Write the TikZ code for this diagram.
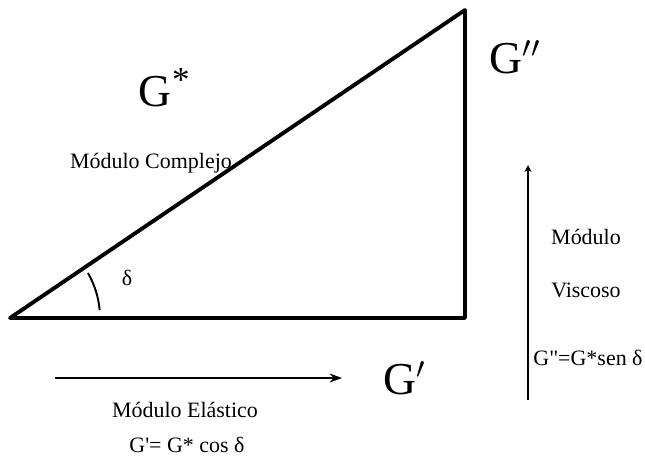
\documentclass[tikz,border=0pt]{standalone}
\usepackage{fontspec}
\setmainfont{Liberation Serif}
\newfontfamily\straightfont{Liberation Serif}
\usetikzlibrary{positioning,arrows.meta}
\tikzset{
  >=Stealth,
  %% lines
  side/.style   = {draw=black, line width=2.2pt, line join=round},
  vec/.style    = {->, draw=black, line width=0.9pt},
  %% labels
  bigsym/.style = {font=\fontsize{26}{28}\selectfont, inner sep=0pt},
  lbl/.style    = {font=\fontsize{12.5}{14}\selectfont, inner sep=1pt},
  eqn/.style    = {font=\straightfont\fontsize{12.5}{14}\selectfont, inner sep=1pt},
}
\begin{document}
\begin{tikzpicture}[x=0.02cm, y=-0.02cm]
\useasboundingbox (0,0) rectangle (645,462);

%% triangle
\coordinate (O) at (10,318);
\coordinate (A) at (465,318);
\coordinate (B) at (465,10);
\draw[side] (O) -- (A) -- (B) -- cycle;

%% angle
\draw[line width=1.1pt] ([shift={(-5:90)}]O) arc[start angle=-5, end angle=-30, radius=90];
\node[lbl] (delta) at (127,278) {δ};

%% complex modulus
\node[bigsym] (Gs) at (155,92) {G};
\node[font=\fontsize{20}{22}\selectfont, inner sep=0pt, right=0pt of Gs.north east, yshift=-2pt] (star) {*};
\node[lbl] (compl) at (151,163) {Módulo Complejo};

%% viscous modulus
\node[bigsym] (Gpp) at (515,57) {G$''$};
\coordinate (vbot) at (528,400);
\coordinate (vtop) at (528,165);
\draw[vec, -{Stealth[length=4pt,width=4pt]}] (vbot) -- (vtop);
\node[lbl] (mv) at (586,237) {Módulo};
\node[lbl] (visc) at (586,290) {Viscoso};
\node[eqn] (gpp) at (588,358) {G"=G*sen δ};

%% elastic modulus
\coordinate (hl) at (55,378);
\coordinate (hr) at (342,378);
\draw[vec, -{Stealth[length=7pt,width=5pt]}] (hl) -- (hr);
\node[bigsym] (Gp) at (405,378) {G$'$};
\node[lbl] (el) at (185,410) {Módulo Elástico};
\node[eqn] (gp) at (187,445) {G'= G* cos δ};

\end{tikzpicture}
\end{document}
